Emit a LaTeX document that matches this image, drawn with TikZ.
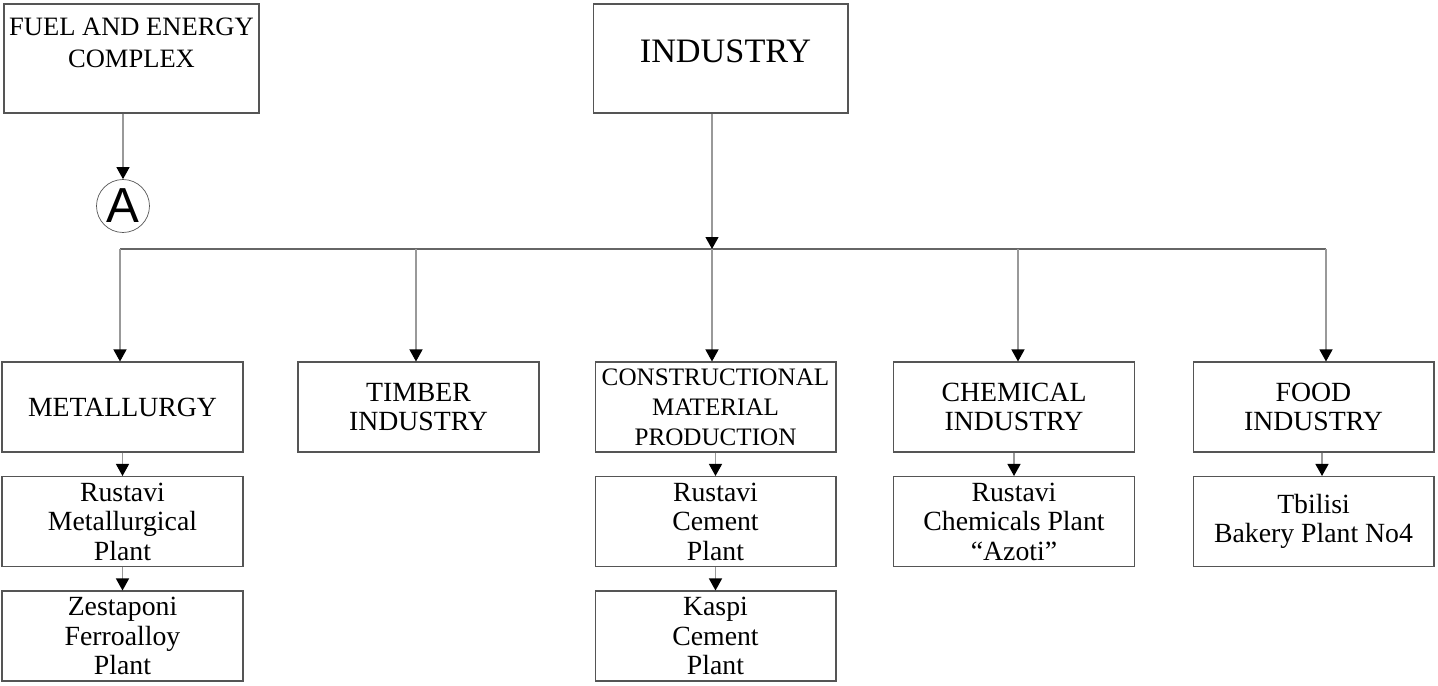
\documentclass[tikz,border=0pt]{standalone}
\usepackage{fontspec}
\setmainfont{Liberation Serif}
\newfontfamily\markfont{Liberation Sans}
\usetikzlibrary{arrows.meta, positioning}
\definecolor{boxgray}{HTML}{555555}
\definecolor{linegray}{HTML}{999999}
\definecolor{busgray}{HTML}{666666}
\tikzstyle{box}=[draw=boxgray,line width=0.6pt,align=center,inner sep=0pt,minimum width=4.82cm,minimum height=1.8cm,font=\fontsize{15.8}{16.8}\selectfont]
\tikzstyle{bigbox}=[draw=boxgray,line width=0.6pt,minimum width=5.1cm,minimum height=2.18cm]
\tikzstyle{arr}=[-{Triangle[width=0.26cm,length=0.24cm,color=black]},linegray,line width=0.7pt]

\begin{document}
\begin{tikzpicture}[x=0.02cm,y=-0.02cm]
  \useasboundingbox (0,0) rectangle (1438,686);
  \node[bigbox] (fuel) at (131.5,58.5) {};
  \node[below=0.28cm of fuel.north,inner sep=0pt,align=center,font=\fontsize{15.1}{18.2}\selectfont] (fueltext) {FUEL AND ENERGY\\COMPLEX};
  \node[bigbox] (industry) at (720.5,58.5) {};
  \node[below=0.72cm of industry.north,xshift=0.1cm,inner sep=0pt,font=\fontsize{19.5}{20}\selectfont] (industrytext) {INDUSTRY};
  \node[circle,draw=boxgray,line width=0.4pt,minimum size=1.06cm,inner sep=0pt,font=\markfont\fontsize{28}{28}\selectfont] (markA) at (123,206) {A};

  \node[box] (metal) at (122.5,407) {METALLURGY};
  \node[box] (timber) at (418.5,407) {TIMBER\\INDUSTRY};
  \node[box,font=\fontsize{14.3}{17}\selectfont] (constr) at (715.5,407) {CONSTRUCTIONAL\\MATERIAL\\PRODUCTION};
  \node[box] (chem) at (1014,407) {CHEMICAL\\INDUSTRY};
  \node[box] (food) at (1313.5,407) {FOOD\\INDUSTRY};

  \node[box] (metalsub) at (122.5,521.5) {Rustavi\\Metallurgical\\Plant};
  \node[box] (metalsub2) at (122.5,636) {Zestaponi\\Ferroalloy\\Plant};
  \node[box] (constrsub) at (715.5,521.5) {Rustavi\\Cement\\Plant};
  \node[box] (constrsub2) at (715.5,636) {Kaspi\\Cement\\Plant};
  \node[box] (chemsub) at (1014,521.5) {Rustavi\\Chemicals Plant\\“Azoti”};
  \node[box] (foodsub) at (1313.5,521.5) {Tbilisi\\Bakery Plant No4};

  \coordinate (b1) at (120,249);
  \coordinate (b2) at (416,249);
  \coordinate (b3) at (712,249);
  \coordinate (b4) at (1018,249);
  \coordinate (b5) at (1326,249);
  \draw[busgray,line width=0.6pt] (b1) -- (b5);
  \draw[arr] (industry.south -| b3) -- (b3);
  \draw[arr] (fuel.south -| markA) -- (markA);
  \foreach \b/\n in {b1/metal,b2/timber,b3/constr,b4/chem,b5/food}
    \draw[arr] (\b) -- (\b |- \n.north);
  \foreach \a/\c in {metal/metalsub,metalsub/metalsub2,constr/constrsub,constrsub/constrsub2,chem/chemsub}
    \draw[arr] (\a) -- (\c);
  \draw[arr] ([xshift=0.17cm]food.south) -- ([xshift=0.17cm]foodsub.north);
\end{tikzpicture}
\end{document}
